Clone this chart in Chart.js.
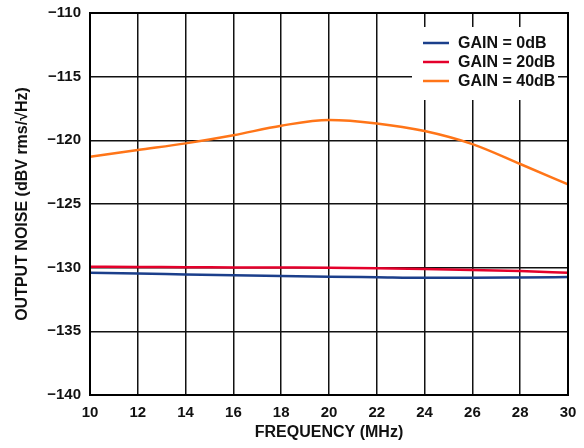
<!DOCTYPE html>
<html lang="en">
<head>
  <meta charset="UTF-8" />
  <title>Output Noise vs Frequency</title>
  <style>
    body { margin: 0; background: #fff; }
    #wrap { width: 584px; height: 448px; }
  </style>
</head>
<body>
  <div id="wrap"><canvas id="noiseChart" width="584" height="448"></canvas></div>

  <script src="https://cdn.jsdelivr.net/npm/chart.js"></script>
  <script>
    // values
    const freqMHz = [10, 12, 14, 16, 18, 20, 22, 24, 26, 28, 30];
    const gain0dB = [-130.4, -130.45, -130.53, -130.6, -130.66, -130.71, -130.75, -130.79, -130.79, -130.77, -130.74];
    const gain20dB = [-129.93, -129.95, -129.96, -129.98, -129.99, -130.0, -130.04, -130.1, -130.18, -130.27, -130.4];
    const gain40dB = [-121.3, -120.76, -120.24, -119.6, -118.85, -118.4, -118.67, -119.27, -120.3, -121.86, -123.46];
    const seriesNames = ['GAIN = 0dB', 'GAIN = 20dB', 'GAIN = 40dB'];
    const seriesColors = ['#1b3f8b', '#e4002b', '#ff7518'];
    const xTicks = [10, 12, 14, 16, 18, 20, 22, 24, 26, 28, 30];
    const yTicks = [-140, -135, -130, -125, -120, -115, -110];

    const FAMILY = '"Liberation Sans", Arial, sans-serif';

    function toPoints(ys) {
      return freqMHz.map((f, i) => ({ x: f, y: ys[i] }));
    }

    // frame + legend drawn inside the plot area
    const framePlugin = {
      id: 'frame',
      afterDraw(chart) {
        const { ctx, chartArea: a } = chart;
        ctx.save();
        ctx.strokeStyle = '#000';
        ctx.lineWidth = 2;
        ctx.strokeRect(a.left, a.top, a.right - a.left, a.bottom - a.top);

        // legend box
        const bx = 412, by = 27, bw = 146, bh = 73;
        ctx.fillStyle = '#fff';
        ctx.fillRect(bx, by, bw, bh);
        ctx.font = 'bold 16px ' + FAMILY;
        ctx.textBaseline = 'middle';
        chart.data.datasets.forEach((ds, i) => {
          const y = 43 + i * 19;
          ctx.strokeStyle = ds.borderColor;
          ctx.lineWidth = 2.5;
          ctx.beginPath();
          ctx.moveTo(423, y);
          ctx.lineTo(449, y);
          ctx.stroke();
          ctx.fillStyle = '#111';
          ctx.fillText(ds.label, 458, y + 1);
        });
        ctx.restore();
      }
    };

    new Chart(document.getElementById('noiseChart'), {
      type: 'line',
      data: {
        datasets: [gain0dB, gain20dB, gain40dB].map((ys, i) => ({
          label: seriesNames[i],
          data: toPoints(ys),
          borderColor: seriesColors[i],
          borderWidth: 2.5,
          pointRadius: 0,
          cubicInterpolationMode: 'monotone',
          fill: false
        }))
      },
      options: {
        responsive: false,
        animation: false,
        layout: { padding: { top: 13, right: 16, left: 0, bottom: 0 } },
        plugins: {
          legend: { display: false },
          tooltip: { enabled: false }
        },
        scales: {
          x: {
            type: 'linear',
            min: 10,
            max: 30,
            afterBuildTicks: (s) => { s.ticks = xTicks.map(v => ({ value: v })); },
            afterFit: (s) => { s.height = 53; s.paddingLeft = 0; s.paddingRight = 0; },
            grid: { color: '#111', lineWidth: 1.5, drawTicks: false },
            border: { display: false },
            ticks: {
              color: '#111',
              font: { family: FAMILY, size: 15, weight: 'bold' },
              padding: 9,
              maxRotation: 0
            },
            title: {
              display: true,
              text: 'FREQUENCY (MHz)',
              color: '#111',
              font: { family: FAMILY, size: 16, weight: 'bold' },
              padding: { top: 4, bottom: 6 }
            }
          },
          y: {
            min: -140,
            max: -110,
            afterBuildTicks: (s) => { s.ticks = yTicks.map(v => ({ value: v })); },
            afterFit: (s) => { s.width = 90; s.paddingTop = 0; s.paddingBottom = 0; },
            grid: { color: '#111', lineWidth: 1.5, drawTicks: false },
            border: { display: false },
            ticks: {
              color: '#111',
              font: { family: FAMILY, size: 15, weight: 'bold' },
              padding: 9,
              callback: (v) => (v < 0 ? '\u2212' + Math.abs(v) : String(v))
            },
            title: {
              display: true,
              text: 'OUTPUT NOISE (dBV rms/\u221AHz)',
              color: '#111',
              font: { family: FAMILY, size: 16, weight: 'bold' },
              padding: { top: 13, bottom: 0 }
            }
          }
        }
      },
      plugins: [framePlugin]
    });
  </script>
</body>
</html>
